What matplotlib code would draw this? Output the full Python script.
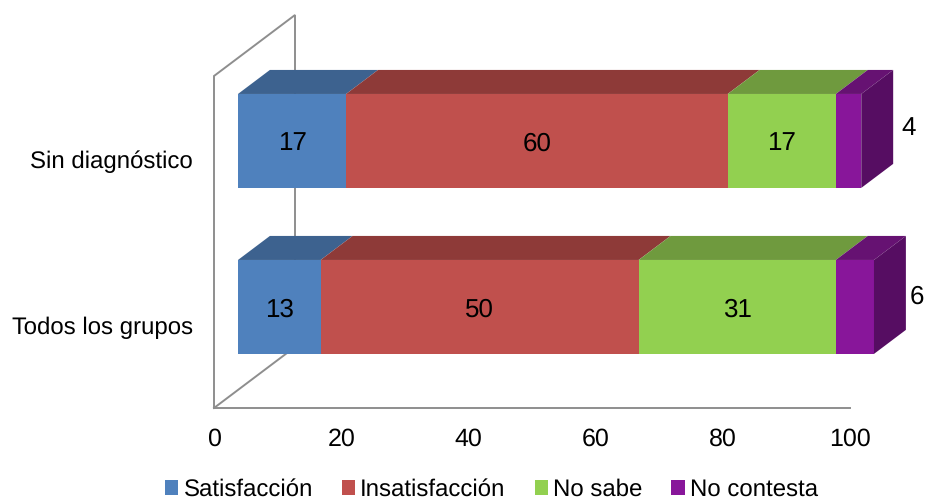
#!/usr/bin/env python
# Stacked horizontal bars with an oblique 3D look, drawn as flat polygons
import matplotlib
matplotlib.use("Agg")
import matplotlib.pyplot as plt
from matplotlib.patches import Polygon, Patch

plt.rcParams['font.family'] = ['Liberation Sans', 'DejaVu Sans']
plt.rcParams['text.hinting'] = 'none'
plt.rcParams['text.hinting_factor'] = 1

# data
groups = ['Todos los grupos', 'Sin diagnóstico']
series = ['Satisfacción', 'Insatisfacción', 'No sabe', 'No contesta']
satisfaccion = [13, 17]
insatisfaccion = [50, 60]
no_sabe = [31, 17]
no_contesta = [6, 4]
values = [satisfaccion, insatisfaccion, no_sabe, no_contesta]
xticks = [0, 20, 40, 60, 80, 100]

# colours for front, top and side faces
front_cols = ['#4F81BD', '#C0504D', '#92D050', '#88169A']
top_cols = ['#3D628F', '#8E3A38', '#6F9A3E', '#661272']
side_col = '#560D62'
grey = '#8E8E8E'

W, H = 925, 500
FS_VAL = 19
FS_XTICK = 17.8
FS_YTICK = 17.3
FS_LEG = 17.4

# depth direction of the box, in data units per unit of depth
dx = 81 / 6.36
dy = 61 / 166
d_front = 0.296   # where the bars sit between the walls
d_back = 0.69
half = 0.283      # half bar height

def proj(v, y, d):
    return (v + d * dx, y + d * dy)

fig = plt.figure(figsize=(W / 100, H / 100), dpi=100)
ax = fig.add_axes([214 / W, 1 - 408 / H, 636 / W, 332 / H])
ax.set_xlim(0, 100)
ax.set_ylim(-0.5, 1.5)

# back wall and floor
wall_x = [0, 0, proj(0, 1.5, 1)[0], proj(0, -0.5, 1)[0]]
wall_y = [-0.5, 1.5, proj(0, 1.5, 1)[1], proj(0, -0.5, 1)[1]]
ax.plot(wall_x, wall_y, color=grey, lw=1.4, clip_on=False, zorder=1,
        solid_joinstyle='miter')
ax.plot([0, proj(0, -0.5, 1)[0]], [-0.5, proj(0, -0.5, 1)[1]], color=grey,
        lw=1.4, clip_on=False, zorder=1)

# bars, bottom group first so the upper one is not covered wrongly
for g in range(len(groups)):
    left = 0
    for s in range(len(series)):
        v = values[s][g]
        right = left + v
        lo = g - half
        hi = g + half
        front = [proj(left, lo, d_front), proj(right, lo, d_front),
                 proj(right, hi, d_front), proj(left, hi, d_front)]
        top = [proj(left, hi, d_front), proj(right, hi, d_front),
               proj(right, hi, d_back), proj(left, hi, d_back)]
        ax.add_patch(Polygon(front, fc=front_cols[s], ec='none', clip_on=False, zorder=3))
        ax.add_patch(Polygon(top, fc=top_cols[s], ec='none', clip_on=False, zorder=3))
        if s == len(series) - 1:
            side = [proj(right, lo, d_front), proj(right, lo, d_back),
                    proj(right, hi, d_back), proj(right, hi, d_front)]
            ax.add_patch(Polygon(side, fc=side_col, ec='none', clip_on=False, zorder=3))
            # last value goes outside the bar
            off = (47, 15) if g == 1 else (43, 12.5)
            ax.annotate(str(v), proj(right, g, d_front), xytext=(off[0] * 0.72, off[1] * 0.72),
                        textcoords='offset points', ha='center', va='center_baseline',
                        fontsize=FS_VAL, color='black', zorder=4, annotation_clip=False)
        else:
            cx, cy = proj(left + v / 2, g, d_front)
            ax.text(cx, cy, str(v), ha='center', va='center_baseline', fontsize=FS_VAL,
                    color='black', zorder=4)
        left = right

# axes
for name in ['top', 'right', 'left']:
    ax.spines[name].set_visible(False)
ax.spines['bottom'].set_color(grey)
ax.spines['bottom'].set_linewidth(1.4)
ax.set_xticks(xticks)
ax.set_yticks(range(len(groups)))
ax.set_yticklabels(groups, va='center_baseline')
ax.tick_params(axis='x', length=0, pad=14, labelsize=FS_XTICK)
ax.tick_params(axis='y', length=0, pad=15, labelsize=FS_YTICK)

# legend
handles = [Patch(fc=c, ec='none', label=n) for c, n in zip(front_cols, series)]
fig.legend(handles=handles, loc='center', bbox_to_anchor=(491.5 / W, 1 - 490 / H),
           ncol=4, frameon=False, fontsize=FS_LEG, handlelength=0.55, handleheight=0.55,
           handletextpad=0.21, columnspacing=1.2, borderpad=0, borderaxespad=0)

fig.savefig('out.png', dpi=100)
